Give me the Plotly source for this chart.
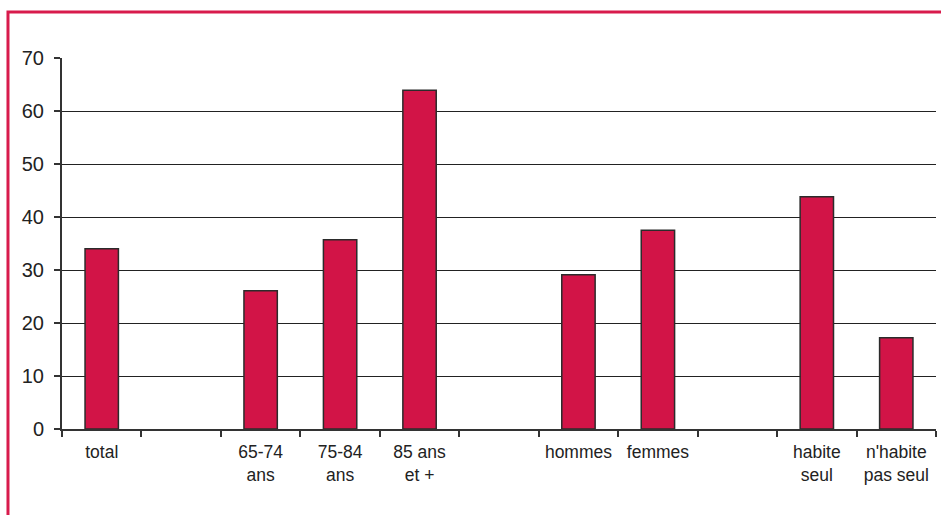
import plotly.graph_objects as go

categories = ["total", " ", "65-74<br>ans", "75-84<br>ans", "85 ans<br>et +", "  ",
              "hommes", "femmes", "   ", "habite<br>seul", "n'habite<br>pas seul"]
values = [34.0, None, 26.1, 35.7, 63.9, None, 29.1, 37.5, None, 43.8, 17.2]
y_ticks = [0, 10, 20, 30, 40, 50, 60, 70]
grid_vals = [10, 20, 30, 40, 50, 60]

BAR = "#D21447"
FRAME = "#D81B4C"

fig = go.Figure()
fig.add_trace(go.Bar(
    x=categories, y=values, width=0.42,
    marker=dict(color=BAR, line=dict(color="#2b2b2b", width=1.5)),
    hoverinfo="skip",
))
fig.add_trace(go.Scatter(x=[categories[0]], y=[0], yaxis="y2", mode="markers",
                         marker=dict(opacity=0), showlegend=False, hoverinfo="skip"))

fig.update_layout(
    width=941, height=515,
    margin=dict(l=62, r=5, t=58, b=86),
    paper_bgcolor="white", plot_bgcolor="rgba(0,0,0,0)",
    showlegend=False,
    font=dict(family="Liberation Sans, Arial, sans-serif", color="#222"),
    xaxis=dict(
        type="category", categoryorder="array", categoryarray=categories,
        tickson="boundaries", ticks="outside", ticklen=6, tickwidth=1.5, tickcolor="#333",
        showline=True, linecolor="#333", linewidth=2,
        showgrid=False, tickfont=dict(size=17.5, color="#222"),
        range=[-0.5, 10.5], ticklabelstandoff=6,
    ),
    yaxis=dict(
        range=[0, 70], tickvals=y_ticks, ticks="outside", ticklen=6, tickwidth=1.5,
        tickcolor="#333", showline=True, linecolor="#333", linewidth=2,
        showgrid=False, zeroline=False, tickfont=dict(size=20, color="#222"),
        ticklabelstandoff=6,
    ),
    yaxis2=dict(
        range=[0, 70], overlaying="y", tickvals=grid_vals, showticklabels=False,
        ticks="", showgrid=True, gridcolor="#222", gridwidth=1.3, zeroline=False,
        showline=False, layer="below traces",
    ),
    shapes=[
        dict(type="path", xref="paper", yref="paper",
             path="M -0.0618,-0.25 L -0.0618,1.124 L 1.02,1.124",
             line=dict(color=FRAME, width=3), layer="below"),
    ],
)

fig.write_html("out.html")
